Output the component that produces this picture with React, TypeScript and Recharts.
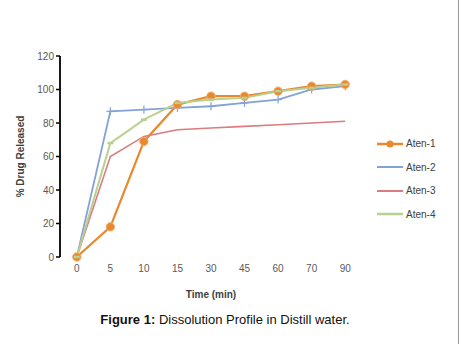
import React from 'react';
import { LineChart, Line, XAxis, YAxis, Legend } from 'recharts';

const times = ['0', '5', '10', '15', '30', '45', '60', '70', '90'];
const aten1 = [0, 18, 69, 91, 96, 96, 99, 102, 103];
const aten2 = [0, 87, 88, 89, 90, 92, 94, 100, 102];
const aten3 = [0, 60, 72, 76, 77, 78, 79, 80, 81];
const aten4 = [0, 68, 82, 92, 94, 95, 99, 101, 103];
const yTicks = [0, 20, 40, 60, 80, 100, 120];
const boundaryTicks = [0, 1, 2, 3, 4, 5, 6, 7, 8, 9];

const data = times.map((t, i) => ({
  t,
  a1: aten1[i],
  a2: aten2[i],
  a3: aten3[i],
  a4: aten4[i],
}));

const C1 = '#E8892F';
const C2 = '#84A2D6';
const C3 = '#DA7C80';
const C4 = '#B9D08E';

const FONT = '"Liberation Sans", Arial, sans-serif';

const dotCircle = (props: any) => {
  const { cx, cy, index } = props;
  return <circle key={'c' + index} cx={cx} cy={cy} r={4.2} fill={C1} stroke="#F2B070" strokeWidth={1} />;
};
const dotPlus = (props: any) => {
  const { cx, cy, index } = props;
  return (
    <g key={'p' + index}>
      <line x1={cx} y1={cy - 4} x2={cx} y2={cy + 4} stroke={C2} strokeWidth={1.2} />
      <line x1={cx - 4} y1={cy} x2={cx + 4} y2={cy} stroke={C2} strokeWidth={1.2} />
    </g>
  );
};
const dotDash = (props: any) => {
  const { cx, cy, index } = props;
  return <line key={'d' + index} x1={cx - 3} y1={cy} x2={cx + 3} y2={cy} stroke={C4} strokeWidth={2.5} />;
};

const legendItems = [
  { name: 'Aten-1', color: C1, marker: 'circle', w: 2.5 },
  { name: 'Aten-2', color: C2, marker: 'none', w: 2 },
  { name: 'Aten-3', color: C3, marker: 'none', w: 2 },
  { name: 'Aten-4', color: C4, marker: 'none', w: 2.5 },
];

const renderLegend = () => (
  <div style={{ fontFamily: FONT, fontSize: 10, color: '#404040' }}>
    {legendItems.map((it) => (
      <div key={it.name} style={{ display: 'flex', alignItems: 'center', height: 23.5 }}>
        <svg width={28} height={10} style={{ marginRight: 2 }}>
          <line x1={1} y1={5} x2={27} y2={5} stroke={it.color} strokeWidth={it.w} />
          {it.marker === 'circle' && <circle cx={14} cy={5} r={3.5} fill={it.color} />}
        </svg>
        <span>{it.name}</span>
      </div>
    ))}
  </div>
);

export default function App() {
  return (
    <div style={{ position: 'absolute', left: 0, top: 0, width: 462, height: 344, background: '#fff' }}>
      <LineChart
        width={462}
        height={344}
        data={data}
        margin={{ top: 56, right: 100, bottom: 37, left: 0 }}
      >
        <XAxis
          xAxisId="b"
          type="number"
          domain={[0, 9]}
          ticks={boundaryTicks}
          height={0}
          tickFormatter={() => ''}
          axisLine={{ stroke: '#000', strokeWidth: 1.8 }}
          tickLine={{ stroke: '#000', strokeWidth: 1.5 }}
          tickSize={5}
          allowDataOverflow
        />
        <XAxis
          xAxisId="cat"
          dataKey="t"
          height={50}
          padding={{ left: 16.8, right: 16.8 }}
          axisLine={false}
          tickLine={false}
          tick={{ fontSize: 10, fill: '#595959', fontFamily: FONT }}
          interval={0}
          label={{
            value: 'Time (min)',
            position: 'insideBottom',
            offset: 9,
            style: { fontSize: 10, fontWeight: 'bold', fill: '#404040', fontFamily: FONT },
          }}
        />
        <YAxis
          width={60}
          domain={[0, 120]}
          ticks={yTicks}
          axisLine={{ stroke: '#000', strokeWidth: 1.8 }}
          tickLine={{ stroke: '#000', strokeWidth: 1.5 }}
          tickSize={4}
          tick={{ fontSize: 10, fill: '#595959', fontFamily: FONT }}
          label={{
            content: (p: any) => {
              const vb = p.viewBox;
              const cy = vb.y + vb.height / 2;
              return (
                <text
                  x={20}
                  y={cy}
                  transform={`rotate(-90 20 ${cy})`}
                  textAnchor="middle"
                  dominantBaseline="central"
                  style={{ fontSize: 10, fontWeight: 'bold', fill: '#404040', fontFamily: FONT }}
                >
                  % Drug Released
                </text>
              );
            },
          }}
        />
        <Legend
          layout="vertical"
          align="center"
          verticalAlign="middle"
          content={renderLegend}
          wrapperStyle={{ left: 376, top: 132, width: 84 }}
        />
        <Line xAxisId="cat" dataKey="a3" name="Aten-3" stroke={C3} strokeWidth={1.6} dot={false} isAnimationActive={false} />
        <Line xAxisId="cat" dataKey="a2" name="Aten-2" stroke={C2} strokeWidth={1.8} dot={dotPlus} isAnimationActive={false} />
        <Line xAxisId="cat" dataKey="a1" name="Aten-1" stroke={C1} strokeWidth={2.2} dot={dotCircle} isAnimationActive={false} />
        <Line xAxisId="cat" dataKey="a4" name="Aten-4" stroke={C4} strokeWidth={2} dot={dotDash} isAnimationActive={false} />
      </LineChart>
      <div
        style={{
          position: 'absolute',
          left: 0,
          width: 450,
          top: 312,
          textAlign: 'center',
          fontFamily: FONT,
          fontSize: 13,
          color: '#111',
        }}
      >
        <b>Figure 1:</b> Dissolution Profile in Distill water.
      </div>
      <div style={{ position: 'absolute', left: 458, top: 0, width: 1, height: 344, background: '#999' }} />
    </div>
  );
}
